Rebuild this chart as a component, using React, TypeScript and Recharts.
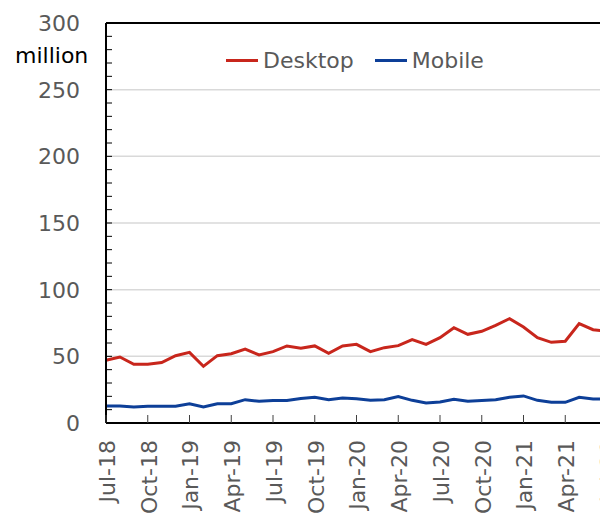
import {
  LineChart,
  Line,
  XAxis,
  YAxis,
  ReferenceLine,
  Legend
} from 'recharts'

const months = [
  'Jul-18', 'Aug-18', 'Sep-18', 'Oct-18', 'Nov-18', 'Dec-18',
  'Jan-19', 'Feb-19', 'Mar-19', 'Apr-19', 'May-19', 'Jun-19',
  'Jul-19', 'Aug-19', 'Sep-19', 'Oct-19', 'Nov-19', 'Dec-19',
  'Jan-20', 'Feb-20', 'Mar-20', 'Apr-20', 'May-20', 'Jun-20',
  'Jul-20', 'Aug-20', 'Sep-20', 'Oct-20', 'Nov-20', 'Dec-20',
  'Jan-21', 'Feb-21', 'Mar-21', 'Apr-21', 'May-21', 'Jun-21',
  'Jul-21'
]

const desktop = [
  47, 49.5, 44, 44, 45.3, 50.5,
  53, 42.5, 50.5, 52, 55.5, 51, 53.5, 57.8, 56, 57.8, 52.3, 57.8,
  59, 53.5, 56.5, 58, 62.5, 59, 64, 71.5, 66.5, 68.8, 73.3, 78.3,
  72, 64, 60.5, 61.3, 74.5, 70, 68.8
]

const mobile = [
  12.8, 12.8, 12, 12.5, 12.5, 12.5,
  14.5, 12, 14.5, 14.5, 17.5, 16.3, 16.8, 16.8, 18.3, 19.3, 17.5, 18.8,
  18.2, 17, 17.5, 19.8, 17, 15, 15.8, 17.8, 16.3, 16.8, 17.5, 19.3,
  20.3, 17, 15.5, 15.5, 19.3, 18, 18
]

const xTicks = [
  'Jul-18', 'Oct-18', 'Jan-19', 'Apr-19', 'Jul-19', 'Oct-19', 'Jan-20',
  'Apr-20', 'Jul-20', 'Oct-20', 'Jan-21', 'Apr-21', 'Jul-21'
]
const yTicks = [
  0, 10, 20, 30, 40, 50, 60, 70, 80, 90, 100, 110, 120, 130, 140, 150,
  160, 170, 180, 190, 200, 210, 220, 230, 240, 250, 260, 270, 280, 290, 300
]
const gridValues = [50, 100, 150, 200, 250]

const RED = '#c8261c'
const BLUE = '#0d3f98'
const FONT = '"DejaVu Sans", Verdana, sans-serif'

const data = months.map((m, i) => ({ month: m, desktop: desktop[i], mobile: mobile[i] }))

function YTick({ x, y, payload }: any) {
  const v = payload.value
  return (
    <g>
      <line x1={x} x2={x + 6} y1={y} y2={y} stroke="#000" strokeWidth={1} />
      {v % 50 === 0 && (
        <text x={x - 26} y={y} dy="0.36em" textAnchor="end" fontSize={22} fill="#595959" fontFamily={FONT}>
          {v}
        </text>
      )}
    </g>
  )
}

function XTick({ x, y, payload }: any) {
  const ty = y + 17
  return (
    <g>
      <line x1={x} x2={x} y1={y} y2={y - 8} stroke="#404040" strokeWidth={1} />
      <text
        x={x}
        y={ty}
        dy="0.4em"
        textAnchor="end"
        fontSize={22}
        fill="#595959"
        fontFamily={FONT}
        transform={`rotate(-90, ${x}, ${ty})`}
      >
        {payload.value}
      </text>
    </g>
  )
}

function LegendContent() {
  const items = [
    { name: 'Desktop', color: RED },
    { name: 'Mobile', color: BLUE }
  ]
  return (
    <div style={{ display: 'flex', alignItems: 'center', fontFamily: FONT, fontSize: 22, color: '#595959' }}>
      {items.map((it) => (
        <div key={it.name} style={{ display: 'flex', alignItems: 'center', marginRight: 21 }}>
          <div style={{ width: 32, height: 3, background: it.color, marginRight: 5 }} />
          <span>{it.name}</span>
        </div>
      ))}
    </div>
  )
}

export default function App() {
  return (
    <div style={{ position: 'relative', width: 600, height: 512 }}>
      <LineChart width={600} height={512} data={data} margin={{ top: 15, right: 1, left: 0, bottom: 0 }}>
        {gridValues.map((v) => (
          <ReferenceLine key={v} y={v} stroke="#d9d9d9" strokeWidth={1.5} />
        ))}
        <ReferenceLine y={300} stroke="#000" strokeWidth={2} />
        <ReferenceLine x="Jul-21" stroke="#404040" strokeWidth={1} />
        <XAxis
          dataKey="month"
          ticks={xTicks}
          interval={0}
          height={97}
          tickSize={0}
          tickMargin={0}
          tickLine={false}
          tick={<XTick />}
          axisLine={{ stroke: '#000', strokeWidth: 2 }}
        />
        <YAxis
          domain={[0, 300]}
          ticks={yTicks}
          interval={0}
          width={98}
          tickSize={0}
          tickMargin={0}
          tickLine={false}
          tick={<YTick />}
          axisLine={{ stroke: '#000', strokeWidth: 2 }}
        />
        <Legend
          layout="horizontal"
          verticalAlign="middle"
          align="center"
          content={<LegendContent />}
          wrapperStyle={{ top: 40, left: 218, width: 'auto', height: 28 }}
        />
        <Line
          dataKey="desktop"
          stroke={RED}
          strokeWidth={3}
          dot={false}
          isAnimationActive={false}
        />
        <Line
          dataKey="mobile"
          stroke={BLUE}
          strokeWidth={3}
          dot={false}
          isAnimationActive={false}
        />
      </LineChart>
      <div
        style={{
          position: 'absolute',
          left: 7,
          top: 35,
          fontFamily: FONT,
          fontSize: 22,
          lineHeight: '26px',
          color: '#000'
        }}
      >
        million
      </div>
    </div>
  )
}
